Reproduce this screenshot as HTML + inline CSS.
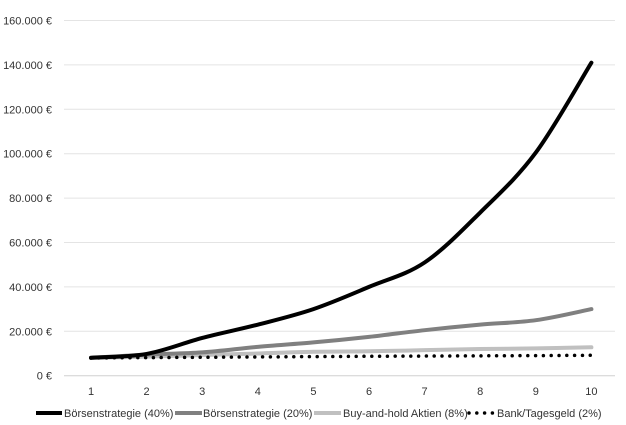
<!DOCTYPE html>
<html><head><meta charset="utf-8"><style>
html,body{margin:0;padding:0;background:#fff;}
svg{display:block;font-family:"Liberation Sans",sans-serif;}
</style></head><body>
<svg id="s" width="626" height="425" viewBox="0 0 626 425">
<g stroke="#e4e4e4" stroke-width="1">
<line x1="64" x2="615" y1="20.5" y2="20.5"/><line x1="64" x2="615" y1="64.9" y2="64.9"/>
<line x1="64" x2="615" y1="109.3" y2="109.3"/><line x1="64" x2="615" y1="153.7" y2="153.7"/>
<line x1="64" x2="615" y1="198.1" y2="198.1"/><line x1="64" x2="615" y1="242.5" y2="242.5"/>
<line x1="64" x2="615" y1="286.9" y2="286.9"/><line x1="64" x2="615" y1="331.3" y2="331.3"/>
</g>
<line x1="64" x2="615" y1="375.7" y2="375.7" stroke="#d0d0d0"/>
<g font-size="11" fill="#333" text-anchor="end">
<text x="52" y="24.5">160.000 €</text><text x="52" y="68.9">140.000 €</text>
<text x="52" y="113.3">120.000 €</text><text x="52" y="157.7">100.000 €</text>
<text x="52" y="202.1">80.000 €</text><text x="52" y="246.5">60.000 €</text>
<text x="52" y="290.9">40.000 €</text><text x="52" y="335.3">20.000 €</text>
<text x="52" y="379.7">0 €</text>
</g>
<g font-size="11" fill="#333" text-anchor="middle" id="xl"></g>
<g id="lines"></g>
<g font-size="11" fill="#333">
<line x1="36" x2="62" y1="413" y2="413" stroke="#000" stroke-width="4"/>
<text x="64" y="417">Börsenstrategie (40%)</text>
<line x1="175" x2="202" y1="413" y2="413" stroke="#808080" stroke-width="4"/>
<text x="203" y="417">Börsenstrategie (20%)</text>
<line x1="314" x2="341" y1="413" y2="413" stroke="#c0c0c0" stroke-width="4"/>
<text x="343" y="417">Buy-and-hold Aktien (8%)</text>
<line x1="469" x2="495" y1="413" y2="413" stroke="#000" stroke-width="3.5" stroke-linecap="round" stroke-dasharray="0 7.8"/>
<text x="497" y="417">Bank/Tagesgeld (2%)</text>
</g>
</svg>
<script>
var X=function(i){return 91+i*55.6;},Y=function(v){return 375.7-v/20000*44.4;};
var xl=document.getElementById('xl'),ns='http://www.w3.org/2000/svg';
for(var i=0;i<10;i++){var t=document.createElementNS(ns,'text');t.setAttribute('x',X(i));t.setAttribute('y',395);t.textContent=i+1;xl.appendChild(t);}
function path(d){var p=d.map(function(v,i){return [X(i),Y(v)];});var s='M'+p[0][0]+','+p[0][1];
for(var i=0;i<p.length-1;i++){var p0=p[i-1]||p[i],p1=p[i],p2=p[i+1],p3=p[i+2]||p2;
s+=' C'+(p1[0]+(p2[0]-p0[0])/6)+','+(p1[1]+(p2[1]-p0[1])/6)+' '+(p2[0]-(p3[0]-p1[0])/6)+','+(p2[1]-(p3[1]-p1[1])/6)+' '+p2[0]+','+p2[1];}return s;}
var series=[
[[8000,8600,9300,10000,10800,11000,11500,12000,12300,12800],'#c0c0c0',4,''],
[[8000,9500,10500,13000,15000,17500,20500,23000,25000,30000],'#808080',4,''],
[[8000,8150,8300,8450,8600,8750,8850,8950,9050,9200],'#000',3.5,'0 7.8'],
[[8100,9800,17000,23000,30000,40000,51000,73500,100500,141000],'#000',4,'']];
var g=document.getElementById('lines');
series.forEach(function(s){var e=document.createElementNS(ns,'path');e.setAttribute('d',path(s[0]));e.setAttribute('fill','none');
e.setAttribute('stroke',s[1]);e.setAttribute('stroke-width',s[2]);e.setAttribute('stroke-linecap','round');
if(s[3])e.setAttribute('stroke-dasharray',s[3]);g.appendChild(e);});
</script>
</body></html>
